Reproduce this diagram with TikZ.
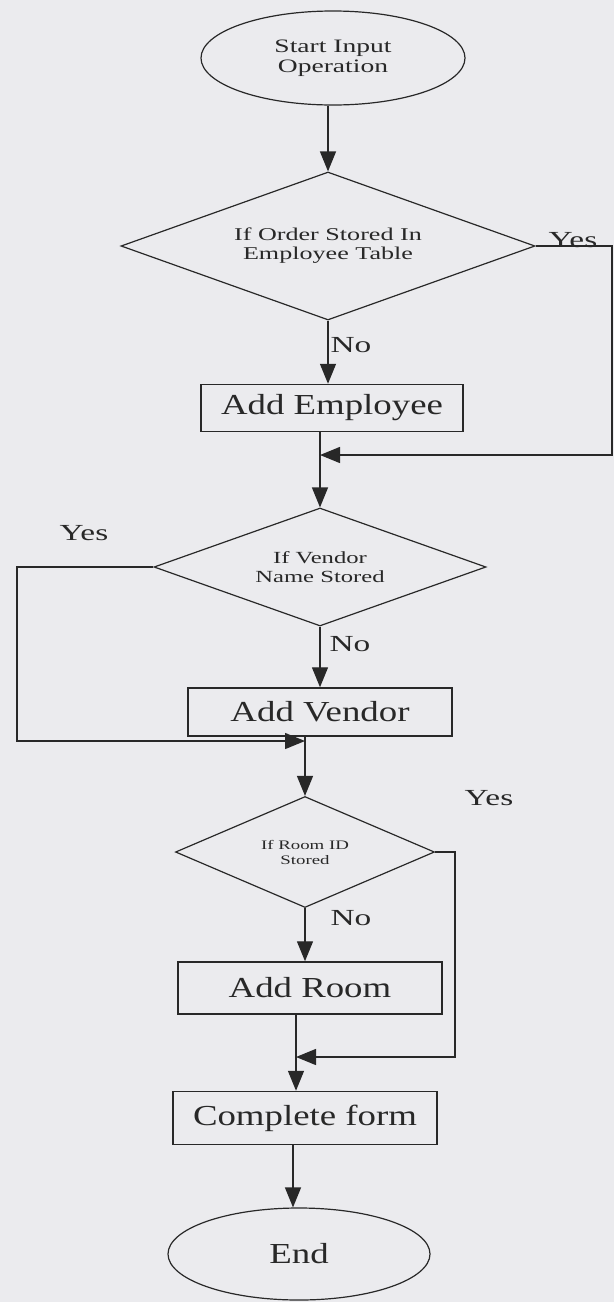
\documentclass[tikz,border=0pt]{standalone}
\usepackage{fontspec}
\setmainfont{Liberation Serif}
\newfontfamily\wideface[FakeStretch=1.27]{Liberation Serif}
\newfontfamily\widerface[FakeStretch=1.45]{Liberation Serif}
\usetikzlibrary{shapes.geometric,arrows.meta,calc}
\definecolor{paper}{RGB}{235,235,238}
\definecolor{ink}{RGB}{40,40,40}

\begin{document}
\begin{tikzpicture}[x=1pt,y=-1pt,
  flow/.style={draw=ink, line width=1.4pt},
  arr/.style={flow, -{Triangle[width=16pt,length=20pt]}},
  term/.style={ellipse, draw=ink, line width=1.2pt, inner sep=0pt, text=ink, align=center},
  proc/.style={rectangle, draw=ink, line width=1.5pt, inner sep=0pt, text=ink,
    font=\wideface\fontsize{29}{32}\selectfont},
  decision/.style={diamond, draw=ink, line width=1.2pt, inner sep=0pt, text=ink, align=center},
  tag/.style={text=ink, inner sep=0pt, font=\widerface\fontsize{23}{25}\selectfont}]

% page
\path[fill=paper] (0,0) rectangle (614,1302);
\useasboundingbox (0,0) rectangle (614,1302);

% nodes
\node[term, minimum width=264pt, minimum height=94pt,
      font=\widerface\fontsize{19}{20}\selectfont] (start) at (333,58) {Start Input\\Operation};
\node[decision, aspect=2.8, minimum width=414pt, minimum height=148pt,
      font=\widerface\fontsize{18}{19}\selectfont] (d1) at (328,246) {If Order Stored In\\Employee Table};
\node[proc, minimum width=262pt, minimum height=47pt] (emp) at (332,408) {Add Employee};
\node[decision, aspect=2.8, minimum width=332pt, minimum height=118pt,
      font=\widerface\fontsize{17}{19}\selectfont] (d2) at (320,567) {If Vendor\\Name Stored};
\node[proc, minimum width=264pt, minimum height=48pt] (vendor) at (320,712) {Add Vendor};
\node[decision, aspect=2.3, minimum width=259pt, minimum height=111pt,
      font=\widerface\fontsize{13}{15}\selectfont] (d3) at (305,852) {If Room ID\\Stored};
\node[proc, minimum width=264pt, minimum height=52pt] (room) at (310,988) {Add Room};
\node[proc, minimum width=264pt, minimum height=53pt] (form) at (305,1118) {Complete form};
\node[term, minimum width=262pt, minimum height=92pt,
      font=\wideface\fontsize{29}{32}\selectfont] (end) at (299,1254) {End};

% columns and loop corners
\coordinate (c4) at (296,0);
\coordinate (c5) at (293,0);
\coordinate (r1) at (612,455);
\coordinate (l2) at (17,741);
\coordinate (l3) at (455,1057);

% main flow
\draw[arr] (d1.north |- start.south) -- (d1.north);
\draw[arr] (d1.south) -- (d1.south |- emp.north);
\draw[arr] (d2.north |- emp.south) -- (d2.north);
\draw[arr] (d2.south) -- (d2.south |- vendor.north);
\draw[arr] (d3.north |- vendor.south) -- (d3.north);
\draw[arr] (d3.south) -- (d3.south |- room.north);
\draw[arr] (room.south -| c4) -- (form.north -| c4);
\draw[arr] (form.south -| c5) -- (end.north -| c5);

% "Yes" branches rejoining the flow
\draw[arr] (d1.east) -| (r1) -- (r1 -| d2.north);
\draw[arr] (d2.west) -| (l2) -- (l2 -| d3.north);
\draw[arr] (d3.east) -| (l3) -- (l3 -| c4);

% branch labels
\node[tag, anchor=south] (y1) at (573,248) {Yes};
\node[tag] (n1) at (351,345) {No};
\node[tag] (y2) at (84,533) {Yes};
\node[tag] (n2) at (350,644) {No};
\node[tag] (y3) at (489,798) {Yes};
\node[tag] (n3) at (351,918) {No};
\end{tikzpicture}
\end{document}
